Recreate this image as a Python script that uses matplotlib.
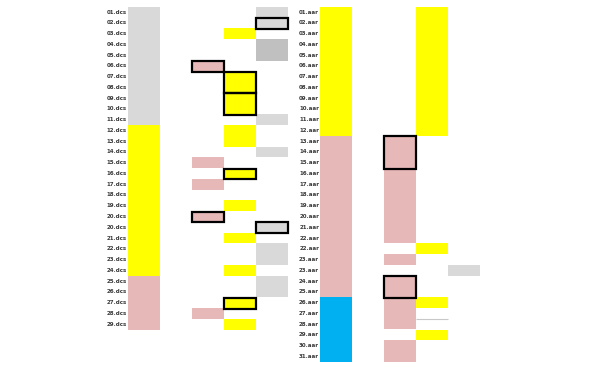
import matplotlib
matplotlib.use("Agg")
import matplotlib.pyplot as plt

# colours used in the grid
colors = {"G": "#d9d9d9", "D": "#c0c0c0", "Y": "#ffff00", "P": "#e6b8b7", "B": "#00b0f0"}

left_labels = ["%02d.dcs" % i for i in range(1, 20)] + ["20.dcs", "20.dcs"] + \
              ["%02d.dcs" % i for i in range(21, 30)]
right_labels = ["%02d.aar" % i for i in range(1, 22)] + ["22.aar", "22.aar", "23.aar", "23.aar"] + \
               ["%02d.aar" % i for i in range(24, 32)]

# segments per column: (first row, number of rows, colour, boxed)
left_col0 = [(0, 11, "G", False), (11, 14, "Y", False), (25, 5, "P", False)]
left_col2 = [(5, 1, "P", True), (14, 1, "P", False), (16, 1, "P", False),
             (19, 1, "P", True), (28, 1, "P", False)]
left_col3 = [(2, 1, "Y", False), (6, 2, "Y", True), (8, 2, "Y", True), (11, 2, "Y", False),
             (15, 1, "Y", True), (18, 1, "Y", False), (21, 1, "Y", False), (24, 1, "Y", False),
             (27, 1, "Y", True), (29, 1, "Y", False)]
left_col4 = [(0, 1, "G", False), (1, 1, "G", True), (3, 2, "D", False), (10, 1, "G", False),
             (13, 1, "G", False), (20, 1, "G", True), (22, 2, "G", False), (25, 2, "G", False)]

right_col0 = [(0, 12, "Y", False), (12, 15, "P", False), (27, 6, "B", False)]
right_col2 = [(12, 3, "P", True), (15, 7, "P", False), (23, 1, "P", False),
              (25, 2, "P", True), (27, 3, "P", False), (31, 2, "P", False)]
right_col3 = [(0, 12, "Y", False), (22, 1, "Y", False), (27, 1, "Y", False), (30, 1, "Y", False)]
right_col4 = [(24, 1, "G", False)]
right_rule = (9, 29)  # thin grey line: column, row boundary

columns = {0: left_col0, 2: left_col2, 3: left_col3, 4: left_col4,
           6: right_col0, 8: right_col2, 9: right_col3, 10: right_col4}

fig = plt.figure(figsize=(5.91, 3.68), dpi=100)
ax = fig.add_axes([0, 0, 1, 1])
ax.set_xlim(-128 / 32, (591 - 128) / 32)
ax.set_ylim((368 - 6.7) / 10.76, -6.7 / 10.76)
ax.axis("off")

for col, segs in columns.items():
    for start, n, c, boxed in segs:
        ax.barh(start + n / 2, 1, left=col, height=n, color=colors[c], linewidth=0, zorder=1)
        if boxed:
            ax.barh(start + n / 2 + 0.05, 1, left=col, height=n, fill=False,
                    edgecolor="black", linewidth=1.6, zorder=3)

ax.hlines(right_rule[1], right_rule[0], right_rule[0] + 1, color="#c8c8c8", linewidth=0.8, zorder=2)

for i, lab in enumerate(left_labels):
    ax.text(-0.03, i + 0.5, lab, ha="right", va="center", fontsize=4, fontweight="bold", color="#3a3a3a")
for i, lab in enumerate(right_labels):
    ax.text(5.97, i + 0.5, lab, ha="right", va="center", fontsize=4, fontweight="bold", color="#3a3a3a")

fig.savefig("out.png", dpi=100)
